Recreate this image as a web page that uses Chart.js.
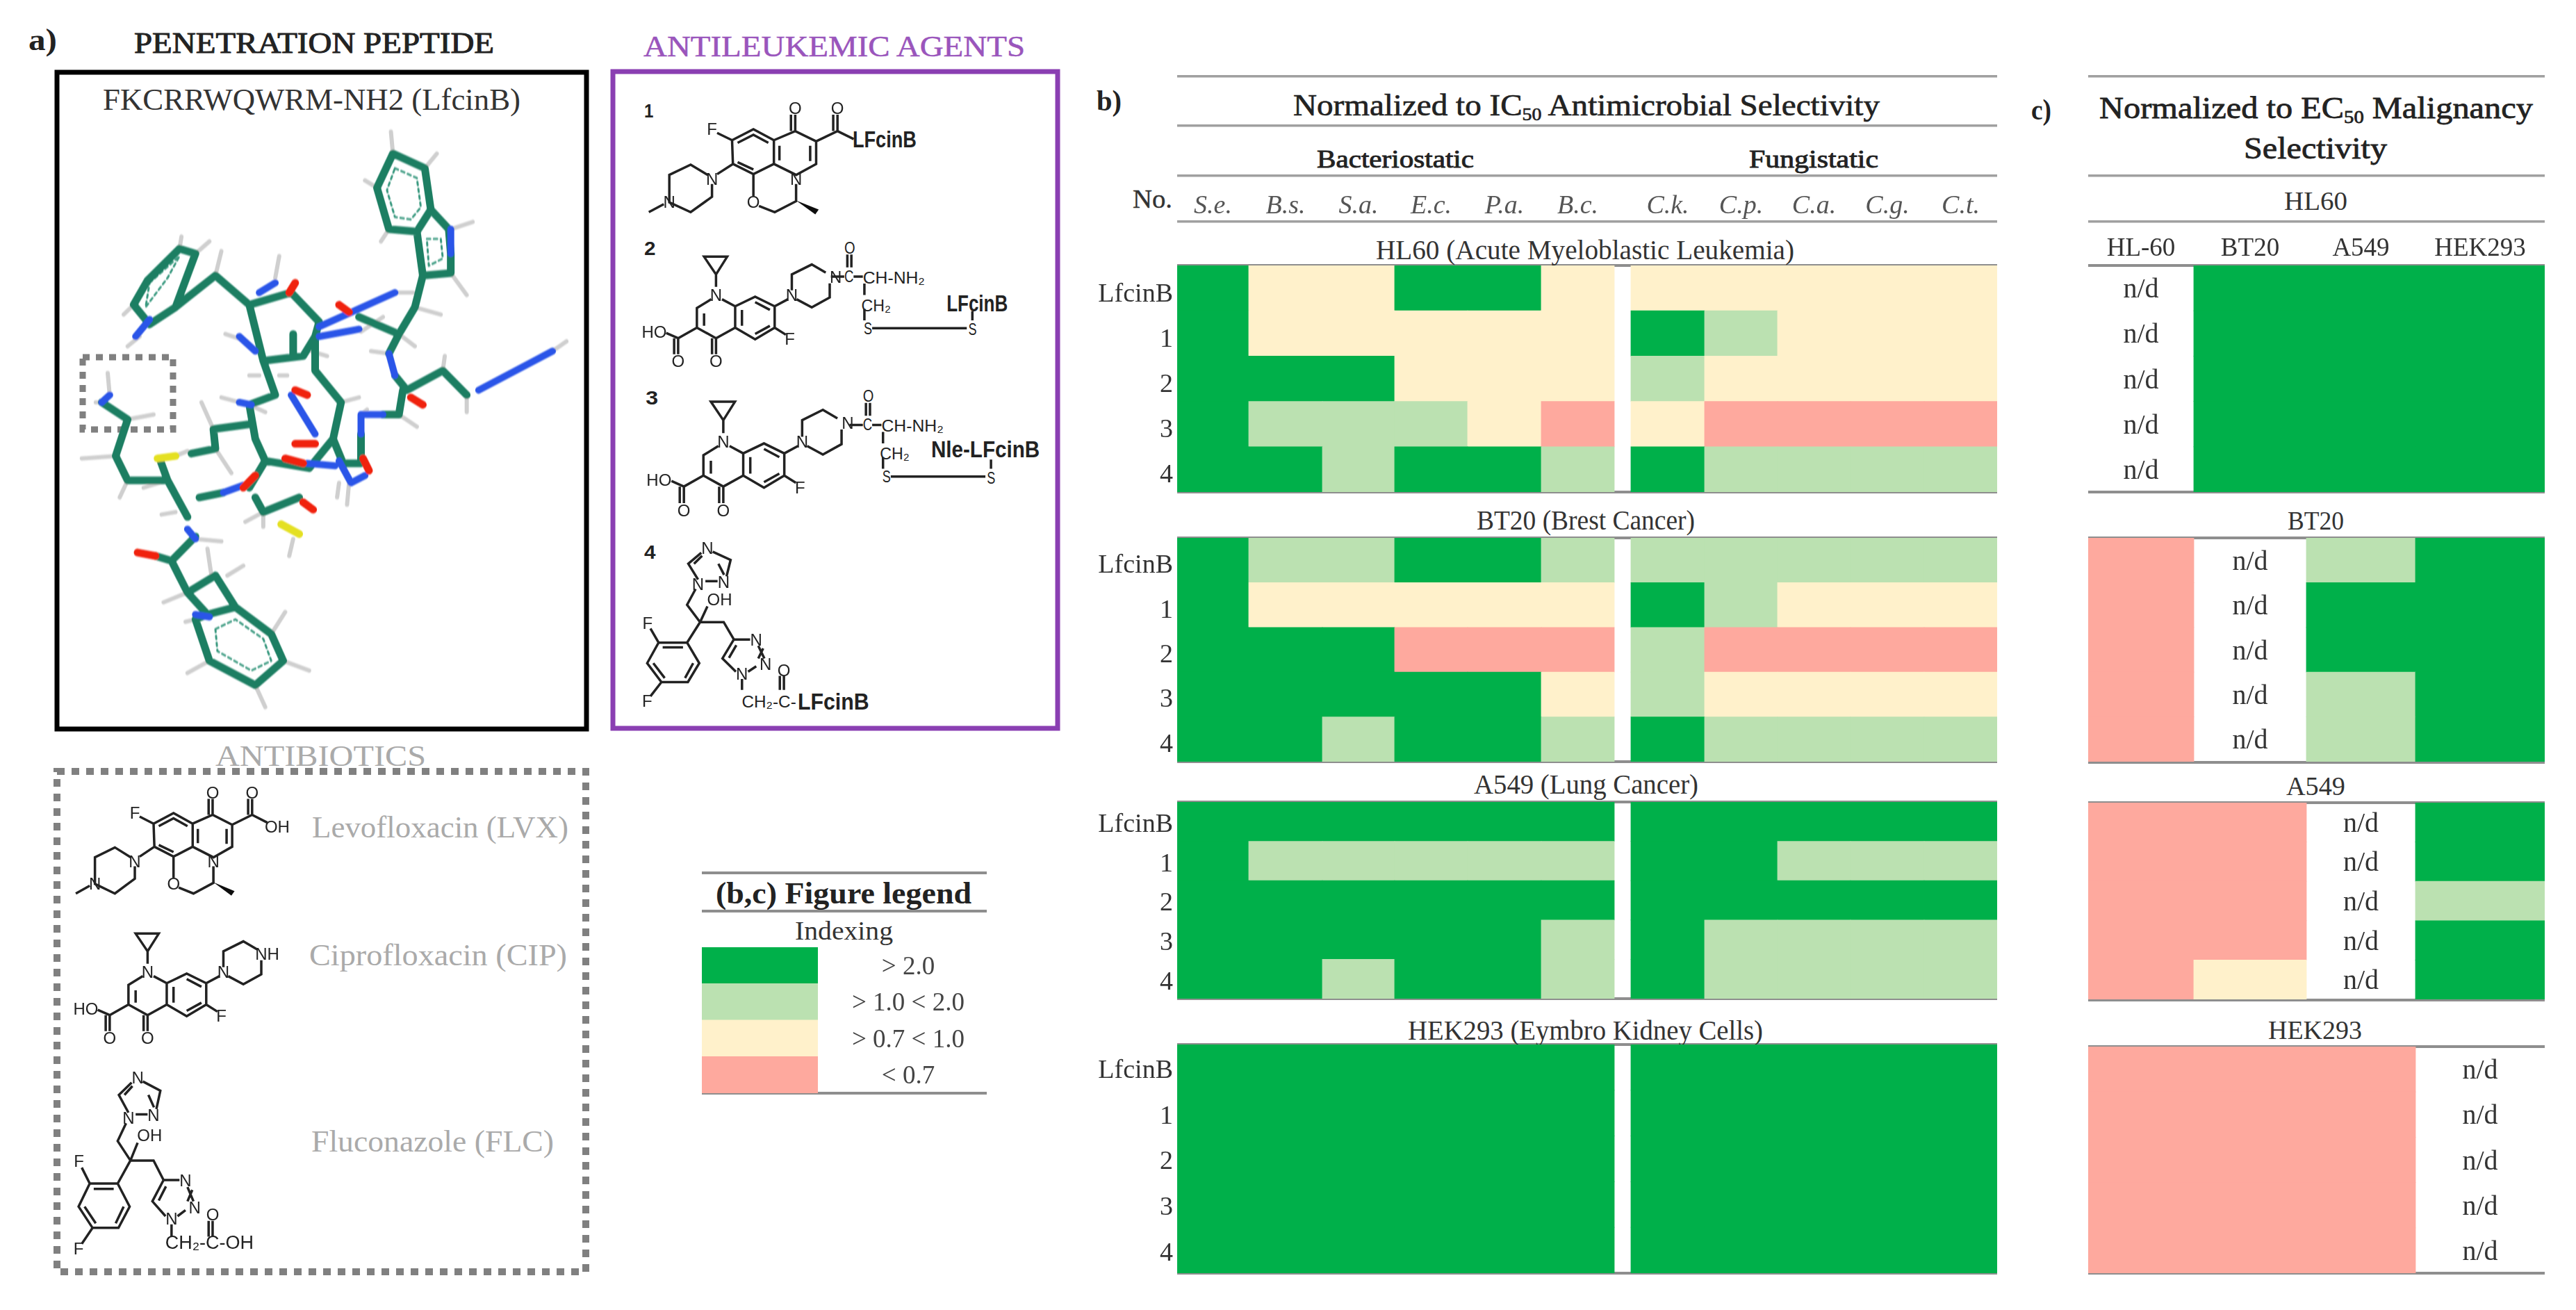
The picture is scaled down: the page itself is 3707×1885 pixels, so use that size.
<!DOCTYPE html>
<html lang="en">
<head>
<meta charset="UTF-8" />
<title>Selectivity heatmaps</title>
<style>
  body { margin: 0; background: #fff; }
  canvas { position: absolute; }
  #overlay { position: absolute; left: 0; top: 0; pointer-events: none; }
</style>
</head>
<body>
<svg id="overlay" width="3707" height="1885" xmlns="http://www.w3.org/2000/svg"></svg>
<script src="https://cdn.jsdelivr.net/npm/chart.js@4"></script>
<script>
// index bins: 3 is > 2.0, 2 is 1.0-2.0, 1 is 0.7-1.0, 0 is < 0.7, null is n/d
const compounds = ["LfcinB", "1", "2", "3", "4"];
const microbes = ["S.e.", "B.s.", "S.a.", "E.c.", "P.a.", "B.c.", "C.k.", "C.p.", "C.a.", "C.g.", "C.t."];
const cellLines = ["HL-60", "BT20", "A549", "HEK293"];

const hl60Microbes = [
  [3, 1, 1, 3, 3, 1, 1, 1, 1, 1, 1],
  [3, 1, 1, 1, 1, 1, 3, 2, 1, 1, 1],
  [3, 3, 3, 1, 1, 1, 2, 1, 1, 1, 1],
  [3, 2, 2, 2, 1, 0, 1, 0, 0, 0, 0],
  [3, 3, 2, 3, 3, 2, 3, 2, 2, 2, 2]
];
const bt20Microbes = [
  [3, 2, 2, 3, 3, 2, 2, 2, 2, 2, 2],
  [3, 1, 1, 1, 1, 1, 3, 2, 1, 1, 1],
  [3, 3, 3, 0, 0, 0, 2, 0, 0, 0, 0],
  [3, 3, 3, 3, 3, 1, 2, 1, 1, 1, 1],
  [3, 3, 2, 3, 3, 2, 3, 2, 2, 2, 2]
];
const a549Microbes = [
  [3, 3, 3, 3, 3, 3, 3, 3, 3, 3, 3],
  [3, 2, 2, 2, 2, 2, 3, 3, 2, 2, 2],
  [3, 3, 3, 3, 3, 3, 3, 3, 3, 3, 3],
  [3, 3, 3, 3, 3, 2, 3, 2, 2, 2, 2],
  [3, 3, 2, 3, 3, 2, 3, 2, 2, 2, 2]
];
const hekMicrobes = [
  [3, 3, 3, 3, 3, 3, 3, 3, 3, 3, 3],
  [3, 3, 3, 3, 3, 3, 3, 3, 3, 3, 3],
  [3, 3, 3, 3, 3, 3, 3, 3, 3, 3, 3],
  [3, 3, 3, 3, 3, 3, 3, 3, 3, 3, 3],
  [3, 3, 3, 3, 3, 3, 3, 3, 3, 3, 3]
];
const hl60Lines = [
  [null, 3, 3, 3],
  [null, 3, 3, 3],
  [null, 3, 3, 3],
  [null, 3, 3, 3],
  [null, 3, 3, 3]
];
const bt20Lines = [
  [0, null, 2, 3],
  [0, null, 3, 3],
  [0, null, 3, 3],
  [0, null, 2, 3],
  [0, null, 2, 3]
];
const a549Lines = [
  [0, 0, null, 3],
  [0, 0, null, 3],
  [0, 0, null, 2],
  [0, 0, null, 3],
  [0, 1, null, 3]
];
const hekLines = [
  [0, 0, 0, null],
  [0, 0, 0, null],
  [0, 0, 0, null],
  [0, 0, 0, null],
  [0, 0, 0, null]
];
const legendBins = [3, 2, 1, 0];
const legendLabels = ["> 2.0", "> 1.0 < 2.0", "> 0.7 < 1.0", "< 0.7"];

// layout, not data
const binColors = ["#FEA99E", "#FFF1CB", "#BBE1B1", "#00B04A"];
const serif = "'Liberation Serif', serif";
const microbeEdges = [0, 103, 209, 313, 418, 524, 629, 653, 759, 864, 969, 1075, 1180];
const lineEdges = [0, 152, 314, 471, 657];

function cells(grid, rows, edges, skipCol) {
  const out = [];
  grid.forEach((row, r) => row.forEach((v, c) => {
    // microbe panels have a blank spacer between the two groups
    const i = skipCol !== undefined && c >= skipCol ? c + 1 : c;
    out.push({ x: [edges[i], edges[i + 1]], y: rows[r], v: v });
  }));
  return out;
}

// stop tick labels from pushing the plot area in from the canvas edge
function noMargins(s) {
  s.paddingTop = s.paddingBottom = s.paddingLeft = s.paddingRight = 0;
}

const ndLabels = {
  id: "ndLabels",
  afterDatasetsDraw(chart) {
    const ctx = chart.ctx;
    ctx.save();
    ctx.font = "40px " + serif;
    ctx.fillStyle = "#333";
    ctx.textAlign = "center";
    ctx.textBaseline = "middle";
    chart.getDatasetMeta(0).data.forEach((el, i) => {
      if (chart.data.datasets[0].data[i].v === null) {
        ctx.fillText("n/d", (el.x + el.base) / 2, el.y + 3);
      }
    });
    ctx.restore();
  }
};

function addCanvas(x, y, w, h) {
  const c = document.createElement("canvas");
  c.width = w;
  c.height = h;
  c.style.left = x + "px";
  c.style.top = y + "px";
  document.body.appendChild(c);
  return c;
}

function heatmap(o) {
  // o.plot = [left, top, right, bottom] of the plot area in page pixels
  const axisW = o.axisW || 0;
  const headH = o.headH || 0;
  const c = addCanvas(o.plot[0] - axisW, o.plot[1] - headH, o.plot[2] - o.plot[0] + axisW, o.plot[3] - o.plot[1] + headH);
  const xMax = o.edges[o.edges.length - 1];
  const centres = [];
  o.grid[0].forEach((_, j) => {
    const i = o.skipCol !== undefined && j >= o.skipCol ? j + 1 : j;
    centres.push((o.edges[i] + o.edges[i + 1]) / 2);
  });
  new Chart(c, {
    type: "bar",
    data: {
      datasets: [{
        data: cells(o.grid, compounds, o.edges, o.skipCol),
        backgroundColor: ctx => ctx.raw && ctx.raw.v !== null ? binColors[ctx.raw.v] : "rgba(0,0,0,0)",
        borderWidth: 0,
        borderSkipped: false,
        inflateAmount: 0.4,
        categoryPercentage: 1,
        barPercentage: 1
      }]
    },
    options: {
      indexAxis: "y",
      responsive: false,
      animation: false,
      layout: { padding: 0 },
      plugins: { legend: { display: false }, tooltip: { enabled: false } },
      scales: {
        x: {
          type: "linear",
          position: "top",
          min: 0,
          max: xMax,
          display: !!o.heads,
          grid: { display: false, drawTicks: false },
          border: { display: false },
          afterBuildTicks: s => { s.ticks = centres.map(v => ({ value: v })); },
          afterFit: s => { s.height = headH; noMargins(s); },
          ticks: {
            autoSkip: false,
            maxRotation: 0,
            padding: o.headPad || 0,
            color: o.headColor || "#333",
            font: { family: serif, size: o.headSize || 38, style: o.headStyle || "normal" },
            callback: (v, i) => o.heads ? o.heads[i] : ""
          }
        },
        y: {
          type: "category",
          labels: compounds,
          offset: true,
          display: axisW > 0,
          grid: { display: false, drawTicks: false },
          border: { display: false },
          afterFit: s => { s.width = axisW; noMargins(s); },
          ticks: { padding: 6, labelOffset: o.labelOffset || 0, color: "#333", font: { family: serif, size: 38 } }
        }
      }
    },
    plugins: [ndLabels]
  });
}

const bLeft = 1694, bRight = 2874, cLeft = 3005, cRight = 3662;
heatmap({ plot: [bLeft, 382, bRight, 708], grid: hl60Microbes, edges: microbeEdges, skipCol: 6, axisW: 134, labelOffset: 9,
  headH: 107, headPad: 62, heads: microbes, headStyle: "italic", headColor: "#555", headSize: 38 });
heatmap({ plot: [bLeft, 774, bRight, 1096], grid: bt20Microbes, edges: microbeEdges, skipCol: 6, axisW: 134, labelOffset: 8 });
heatmap({ plot: [bLeft, 1154, bRight, 1437], grid: a549Microbes, edges: microbeEdges, skipCol: 6, axisW: 134, labelOffset: 5 });
heatmap({ plot: [bLeft, 1503, bRight, 1832], grid: hekMicrobes, edges: microbeEdges, skipCol: 6, axisW: 134, labelOffset: 5 });

heatmap({ plot: [cLeft, 382, cRight, 708], grid: hl60Lines, edges: lineEdges, headH: 55, headPad: 2, heads: cellLines, headSize: 37 });
heatmap({ plot: [cLeft, 774, cRight, 1096], grid: bt20Lines, edges: lineEdges });
heatmap({ plot: [cLeft, 1155, cRight, 1438], grid: a549Lines, edges: lineEdges });
heatmap({ plot: [cLeft, 1506, cRight, 1832], grid: hekLines, edges: lineEdges });

// legend swatches are one more little bar chart, labels on its right axis
new Chart(addCanvas(1010, 1363, 410, 210), {
  type: "bar",
  data: {
    labels: legendLabels,
    datasets: [{
      data: legendBins.map(() => 1),
      backgroundColor: legendBins.map(b => binColors[b]),
      borderWidth: 0,
      inflateAmount: 0.4,
      categoryPercentage: 1,
      barPercentage: 1
    }]
  },
  options: {
    indexAxis: "y",
    responsive: false,
    animation: false,
    layout: { padding: 0 },
    plugins: { legend: { display: false }, tooltip: { enabled: false } },
    scales: {
      x: { display: false, min: 0, max: 1, afterFit: noMargins },
      y: {
        position: "right",
        grid: { display: false, drawTicks: false },
        border: { display: false },
        afterFit: s => { s.width = 243; noMargins(s); },
        ticks: { padding: 49, crossAlign: "center", labelOffset: 3, color: "#444", font: { family: serif, size: 37 } }
      }
    }
  }
});

// ---- text, rules and the structure drawings go in one svg on top
let svg = "";
function txt(s, x0, x1, base, size, opt) {
  opt = opt || {};
  const col = opt.c || "#222";
  svg += `<text x="${x0}" y="${base}" textLength="${x1 - x0}" lengthAdjust="spacingAndGlyphs" font-family="${opt.fam || serif}" ` +
    `font-size="${size}" font-weight="${opt.w || "normal"}" fill="${col}"` +
    (opt.s ? ` stroke="${col}" stroke-width="${opt.s}"` : "") + `>${s}</text>`;
}
function rule(x0, x1, y, dark) {
  svg += `<rect x="${x0}" y="${y - 2}" width="${x1 - x0}" height="${dark ? 4 : 3.5}" fill="${dark ? "rgba(50,50,50,0.55)" : "#a0a0a0"}"/>`;
}

[110, 181, 253, 319].forEach(y => rule(bLeft, bRight, y));
[382, 708, 774, 1096, 1154, 1437, 1503, 1832].forEach(y => rule(bLeft, bRight, y, true));
[110, 253, 319].forEach(y => rule(cLeft, cRight, y));
[382, 708, 774, 1097, 1155, 1439, 1506, 1832].forEach(y => rule(cLeft, cRight, y, true));
[1256, 1311].forEach(y => rule(1010, 1420, y, true));
rule(1010, 1420, 1573, true);

txt("a)", 41, 82, 72, 44, { w: "bold" });
txt("PENETRATION PEPTIDE", 193, 711, 76, 42, { s: 1 });
txt("FKCRRWQWRM-NH2 (LfcinB)", 148, 749, 158, 44, { c: "#333" });
txt("ANTILEUKEMIC AGENTS", 926, 1475, 81, 42, { c: "#9A55BC", s: 0.5 });
txt("ANTIBIOTICS", 310, 613, 1102, 42, { c: "#aaa" });
txt("Levofloxacin (LVX)", 449, 818, 1205, 44, { c: "#aaa" });
txt("Ciprofloxacin (CIP)", 445, 816, 1389, 44, { c: "#aaa" });
txt("Fluconazole (FLC)", 448, 797, 1657, 44, { c: "#aaa" });

txt("b)", 1578, 1614, 159, 42, { w: "bold" });
txt('Normalized to IC<tspan dy="7" font-size="26">50</tspan><tspan dy="-7"> Antimicrobial Selectivity</tspan>', 1861, 2705, 166, 44, { s: 0.7 });
txt("Bacteriostatic", 1895, 2121, 241, 36, { s: 0.9 });
txt("Fungistatic", 2517, 2703, 241, 36, { s: 0.9 });
txt("No.", 1630, 1687, 299, 38, { c: "#333", s: 0.4 });
txt("HL60 (Acute Myeloblastic Leukemia)", 1980, 2582, 373, 40, { c: "#333" });
txt("BT20 (Brest Cancer)", 2125, 2439, 762, 40, { c: "#333" });
txt("A549 (Lung Cancer)", 2121, 2444, 1142, 40, { c: "#333" });
txt("HEK293 (Eymbro Kidney Cells)", 2026, 2537, 1496, 40, { c: "#333" });

txt("c)", 2923, 2952, 172, 42, { w: "bold" });
txt('Normalized to EC<tspan dy="7" font-size="26">50</tspan><tspan dy="-7"> Malignancy</tspan>', 3021, 3645, 170, 44, { s: 0.8 });
txt("Selectivity", 3229, 3435, 228, 44, { s: 0.8 });
txt("HL60", 3287, 3378, 302, 38, { c: "#333" });
txt("BT20", 3292, 3373, 762, 38, { c: "#333" });
txt("A549", 3290, 3375, 1144, 38, { c: "#333" });
txt("HEK293", 3264, 3399, 1495, 38, { c: "#333" });

txt("(b,c) Figure legend", 1030, 1398, 1300, 44, { w: "bold" });
txt("Indexing", 1144, 1285, 1352, 38, { c: "#333" });

// boxes
svg += `<rect x="82" y="104" width="762" height="945" fill="none" stroke="#000" stroke-width="7"/>`;
svg += `<rect x="882" y="103" width="640" height="945" fill="none" stroke="#8A3FB2" stroke-width="7"/>`;
svg += `<rect x="82" y="1110" width="761" height="720" fill="none" stroke="#808080" stroke-width="10" stroke-dasharray="11 10"/>`;
svg += `<rect x="119" y="514" width="130" height="104" fill="none" stroke="#808080" stroke-width="9" stroke-dasharray="10 9"/>`;

const levo = {
  bonds: "M385 265L435 235L483 265L483 330L435 358L387 330Z M483 265L533 240L582 268L582 330L535 360L483 330 M398 272L435 250L470 272 M398 325L435 345 M496 280L496 320 M568 280L568 322 M533 240V195 M523 240V195 M582 268L632 240V195 M622 240V195 M632 240L670 262 M385 265L350 245 M387 330L350 358 M338 385V420L288 462L238 435V360L288 332L328 360 M225 440L190 462 M435 358V418 M448 445L485 462L535 432V385",
  wedge: "M535 430L588 455L580 468Z",
  atoms: [["F", 338, 235], ["O", 533, 178], ["O", 632, 178], ["OH", 695, 275], ["N", 338, 372], ["N", 238, 435], ["O", 435, 435], ["N", 535, 372]]
};
const cipro = {
  bonds: "M340 575H398L370 625Z M370 625V660 M358 695L322 720V775L370 805L418 775V715L385 695 M418 715L468 688L517 715V775L468 808L418 775 M340 735V770 M435 725V770 M468 703L505 725 M468 793L505 770 M370 805V850 M360 805V850 M322 775L275 805V850 M265 805V850 M275 805L245 790 M517 775L545 795 M517 715L550 695 M560 670V625L610 597L645 620 M655 650V690L610 718L572 695",
  wedge: "",
  atoms: [["N", 370, 685], ["O", 370, 870], ["O", 275, 870], ["HO", 215, 787], ["F", 555, 808], ["N", 560, 685], ["NH", 670, 633]]
};
const fluco = {
  bonds: "M358 992L402 1018L392 1070 M372 1030L386 1065 M370 1085H340 M322 1080L298 1030L330 995 M312 1030L332 1005 M316 1110L295 1160L327 1215 M327 1215L345 1165 M327 1215H385L410 1270 M410 1270H450 M470 1290L485 1330 M482 1298L470 1330 M465 1355L445 1372 M415 1372L382 1330L410 1270 M398 1328L416 1288 M430 1395V1430 M533 1430V1385 M523 1430V1385 M327 1215L295 1280L225 1280L197 1345L232 1405H297L325 1345L295 1280 M235 1295H285 M212 1345L240 1392 M290 1392L310 1345 M225 1280L205 1235 M232 1405L205 1450",
  wedge: "",
  atoms: [["N", 345, 982], ["N", 385, 1088], ["N", 322, 1095], ["OH", 375, 1145], ["N", 465, 1272], ["N", 488, 1348], ["N", 430, 1380], ["F", 198, 1218], ["F", 197, 1465], ["O", 533, 1368], ["CH₂-C-OH", 525, 1449]]
};
function mol(m, kx, ky, dx, dy, rep) {
  rep = rep || {};
  const a = kx / 1.742, d = ky / 1.96, f = 1050 * ky + dy;
  svg += `<g filter="url(#soft)"><g transform="matrix(${a} 0 0 ${d} ${dx} ${f})"><path d="${m.bonds}" fill="none" stroke="#222" stroke-width="3.5" vector-effect="non-scaling-stroke"/>` +
    `<path d="${m.wedge}" fill="#111"/></g>`;
  m.atoms.forEach(t => {
    const label = t[0] in rep ? rep[t[0]] : t[0];
    if (label === null) return;
    svg += `<text x="${t[1] * a + dx}" y="${t[2] * d + f + 8}" text-anchor="middle" font-family="'Liberation Sans'" font-size="${label.length > 3 ? 27 : 24}" fill="#222">${label}</text>`;
  });
  svg += "</g>";
}
// crops of the purple box: x = 860 + px / 2.24, y = 20 + py / 1.508
const zx = p => 860 + p / 2.24, zy = p => 20 + p / 1.508;
function z6Text(s, x0, x1, y, size, bold) {
  txt(s, zx(x0), zx(x1), zy(y), size, { fam: "'Liberation Sans'", w: bold ? "bold" : "normal" });
}
function chain(sx, sy, label, lx0, lx1, ly) {
  const g = (x, y) => `${zx(x + sx)} ${zy(y + sy)}`;
  svg += `<path d="M${g(752, 570)}L${g(795, 570)} M${g(825, 570)}H${zx(sx + 855)} M${g(860, 585)}L${g(860, 610)} M${g(860, 640)}L${g(860, 665)} M${g(885, 682)}L${g(1190, 682)} M${g(1208, 665)}L${g(1208, 645)} M${g(805, 550)}L${g(805, 522)} M${g(818, 550)}L${g(818, 522)}" fill="none" stroke="#222" stroke-width="3.5" filter="url(#soft)"/>`;
  z6Text("C", 795 + sx, 825 + sx, 582 + sy, 24);
  z6Text("O", 795 + sx, 830 + sx, 520 + sy, 24);
  z6Text("CH-NH₂", 855 + sx, 1055 + sx, 585 + sy, 24);
  z6Text("CH₂", 850 + sx, 945 + sx, 645 + sy, 24);
  z6Text("S", 858 + sx, 885 + sx, 695 + sy, 24);
  z6Text("S", 1195 + sx, 1222 + sx, 697 + sy, 24);
  z6Text(label, lx0, lx1, ly, 34, true);
}
mol(levo, 1, 1, 0, 0);
mol(cipro, 1, 1, 0, 0);
mol(fluco, 1, 1, 0, 0);

mol(levo, 1.07, 1.03, 817, -1019, { OH: null });
z6Text("LFcinB", 822, 1028, 290, 34, true);
mol(cipro, 1, 1, 818, -974, { NH: "N" });
chain(0, 0, "LFcinB", 1125, 1322, 645);
mol(cipro, 1.04, 1.04, 820, -819, { NH: "N" });
chain(60, 322, "Nle-LFcinB", 1075, 1425, 962);
mol(fluco, 1.02, 0.89, 816, -591, { "CH₂-C-OH": null });
z6Text("CH₂-C-", 465, 640, 1505, 24);
z6Text("LFcinB", 645, 875, 1510, 34, true);
[["1", 150, 180, 225], ["2", 150, 187, 523], ["3", 155, 195, 848], ["4", 150, 187, 1183]].forEach(n => z6Text(n[0], n[1], n[2], n[3], 28, true));

// stick model of the peptide, crop scale 1.742 x 1.425
const peptideGreen = "M985 315L1065 345L1080 430L1045 475L975 470L945 385Z M1080 430L1125 470L1130 520L1130 560L1060 565L1045 475 M1060 565L1040 630L1000 685L900 650 M790 690L800 660L730 600L625 625L540 565L470 610L440 630 M490 520L450 510L370 575L335 625L375 665L440 630L490 520 M625 625L660 740L690 810L625 830L640 900L665 945L625 1000 M660 740L760 730L790 690 M790 690V760L855 825L835 900L775 960L665 945 M1000 685L975 725 M990 770L1020 800L1110 760L1170 810 M1010 800L1000 850L960 850 M905 890L905 950L860 950L835 900 M255 825L320 860L290 935L320 985L420 985L470 1060 M420 985L400 940 M490 1100L430 1150L470 1215L520 1260 M430 1150L390 1140 M520 1260L590 1245L680 1300L710 1355L640 1405L525 1355L490 1270Z M470 1215L540 1180L590 1245 M500 1020L560 1010 M640 1020L660 1050L750 1020 M535 880L540 920L480 930 M535 880L625 870 M735 730V685";
const peptideRings = "M990 345L1045 365L1055 425L1030 450L990 445L970 390Z M1070 490L1105 490L1110 530L1075 545Z M540 1290L590 1270L660 1310L680 1355L630 1375L545 1335Z M375 580L450 525L420 570L365 630Z";
const peptideBlue = "M975 725L990 770 M905 850L960 850 M905 850V890 M1130 470V520 M340 690L375 655 M600 690L640 720 M600 825L630 830 M255 825L275 810 M470 1085L490 1105 M800 670L990 600 M800 690L900 675 M1200 800L1385 720 M850 945L880 990L915 975 M770 950L840 955 M560 1010L610 995 M650 600L690 580 M490 1260L525 1265 M730 810L790 890";
const peptideRed = "M850 625L875 640 M725 600L740 580 M740 800L770 810 M740 910L790 910 M715 940L760 950 M910 940L925 965 M1030 815L1060 830 M760 1030L785 1045 M345 1133L390 1140 M610 1000L640 975";
const peptideYellow = "M395 940L440 935 M705 1075L750 1095";
const peptideH = "M985 315L980 270 M1065 345L1095 315 M945 385L915 370 M975 470L955 495 M1130 470L1185 455 M1130 560L1170 605 M450 510L455 485 M490 520L525 495 M335 625L310 645 M350 690L320 710 M540 565L555 515 M690 570L700 525 M1040 630L1105 645 M1000 685L1040 710 M975 725L930 720 M1110 760L1115 730 M1385 720L1420 700 M1170 810V845 M1000 850L1045 875 M905 850L920 840 M855 825L900 815 M620 700L565 685 M600 825L555 815 M625 830L665 845 M535 880L505 825 M540 920L580 970 M440 935L470 925 M320 860L385 850 M275 810L270 765 M255 825L240 825 M290 935L205 940 M320 985L300 1020 M420 985L360 1000 M440 1050L405 1055 M490 1105L555 1110 M530 1180L520 1125 M570 1180L610 1160 M470 1215L410 1235 M490 1270L465 1275 M525 1355L470 1380 M640 1405L665 1450 M710 1355L775 1375 M680 1300L715 1255 M660 1050L615 1070 M660 1050V1080 M735 1105L725 1140 M875 990L870 1035 M850 990L845 1020 M905 680L960 650 M990 600L1035 600 M780 720L820 730 M650 770L625 770 M700 770L720 770";
function stick(d, c, w, dash) {
  svg += `<path d="${d}" fill="none" stroke="${c}" stroke-width="${w}" stroke-linecap="round" stroke-linejoin="round" vector-effect="non-scaling-stroke"${dash ? ` stroke-dasharray="${dash}"` : ""}/>`;
}
svg += `<g transform="scale(${1 / 1.742} ${1 / 1.425})" filter="url(#soft2)">`;
stick(peptideH, "#cfcfcf", 6);
stick(peptideRings, "#3b9a80", 3, "5 5");
stick(peptideGreen, "#1B7E62", 11);
stick(peptideBlue, "#2A55E8", 10);
stick(peptideRed, "#F02010", 11);
stick(peptideYellow, "#E4E020", 11);
svg += "</g>";

document.getElementById("overlay").innerHTML =
  `<defs><filter id="soft" x="-5%" y="-5%" width="110%" height="110%"><feGaussianBlur stdDeviation="0.6"/></filter>` +
  `<filter id="soft2" x="-5%" y="-5%" width="110%" height="110%"><feGaussianBlur stdDeviation="1.2"/></filter></defs>` + svg;
</script>
</body>
</html>
